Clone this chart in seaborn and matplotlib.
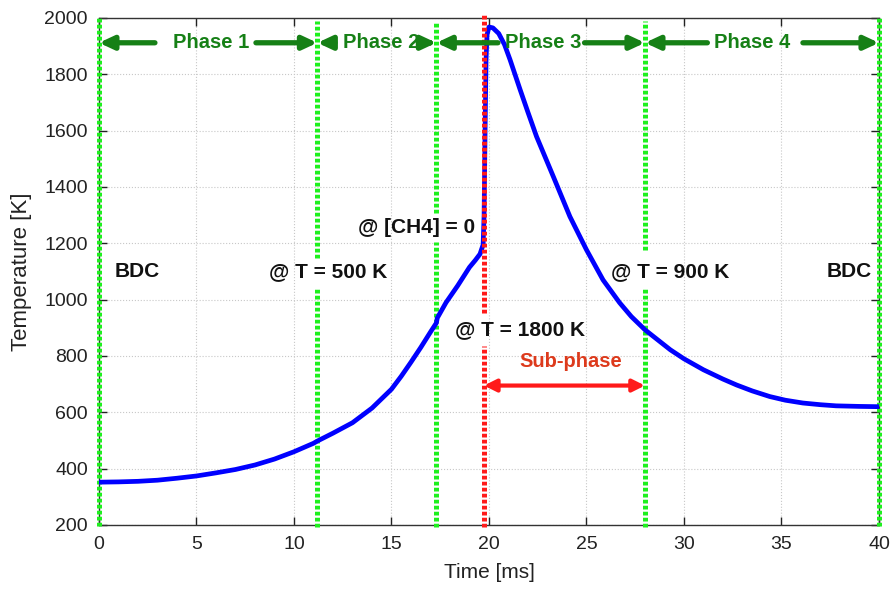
import numpy as np
import pandas as pd
import seaborn as sns
import matplotlib.pyplot as plt

# temperature trace
time_ms = [0, 1, 2, 3, 4, 5, 6, 7, 8, 9, 10, 11, 11.2, 12, 13, 14, 15, 15.5, 16,
           16.5, 17, 17.3, 17.35, 17.8, 18.4, 19.0, 19.3, 19.54, 19.7, 19.75, 19.8,
           19.85, 19.9, 20.0, 20.2, 20.5, 20.8, 21.08, 21.6, 22.0, 22.44, 23.3,
           24.15, 25.0, 25.85, 26.7, 27.3, 28.0, 29.3, 30.0, 31.0, 32.0, 32.7,
           33.5, 34.4, 35.2, 36.1, 37.0, 37.8, 39.0, 40.0]
temp_K = [352, 353, 355, 359, 366, 374, 385, 397, 413, 434, 460, 490, 498, 526,
          563, 615, 682, 728, 778, 830, 885, 917, 935, 990, 1050, 1115, 1140,
          1162, 1195, 1300, 1600, 1850, 1940, 1968, 1965, 1945, 1905, 1852, 1745,
          1665, 1579, 1437, 1295, 1177, 1070, 989, 940, 893, 822, 790, 751, 718,
          697, 676, 656, 643, 633, 627, 623, 621, 620]

# phase boundaries (green) and the sub-phase start (red), with label gaps
green_x = [0, 11.2, 17.3, 28.0, 40]
green_gap = [None, (1038, 1149), (1205, 1308), (1045, 1177), None]
red_x = 19.74
red_gap = (836, 953)

phase_names = ["Phase 1", "Phase 2", "Phase 3", "Phase 4"]
phase_text_x = [5.74, 14.46, 22.77, 33.5]
phase_left_tail = [2.87, 12.1, 20.46, 31.2]
phase_right_tail = [8.05, 16.67, 24.9, 36.1]
phase_y = 1912

labels = ["BDC", "@ T = 500 K", "@ [CH4] = 0", "@ T = 1800 K", "@ T = 900 K", "BDC"]
labels_x = [1.95, 11.74, 16.27, 21.6, 29.3, 38.5]
labels_y = [1099, 1099, 1255, 893, 1099, 1099]

sns.set_theme(style="ticks")
plt.rcParams['font.family'] = ['Liberation Sans', 'DejaVu Sans']

fig = plt.figure(figsize=(8.94, 5.90), dpi=100)
ax = fig.add_axes([0.1107, 0.1102, 0.8725, 0.8593])

df = pd.DataFrame({"t": time_ms, "T": temp_K})

ax.set_xlim(0, 40)
ax.set_ylim(200, 2000)
ax.set_xticks(np.arange(0, 41, 5))
ax.set_yticks(np.arange(200, 2001, 200))
ax.grid(True, color="#c8c8c8", linestyle=":", linewidth=0.8)

dots = (0, (0.75, 0.45))
green = "#1ef01e"
for x, gap in zip(green_x, green_gap):
    if gap is None:
        segs = [(195, 2000)]
    else:
        segs = [(192, gap[0]), (gap[1], 1990)]
    for lo, hi in segs:
        ax.plot([x, x], [lo, hi], color=green, lw=3.6, linestyle=dots, zorder=3,
                clip_on=False)

sns.lineplot(data=df, x="t", y="T", color="#0000ff", lw=3.4, ax=ax, zorder=4,
             sort=False, estimator=None)

for lo, hi in [(192, red_gap[0]), (red_gap[1], 2012)]:
    ax.plot([red_x, red_x], [lo, hi], color="#ff1a1a", lw=3.6, linestyle=dots,
            zorder=5, clip_on=False)

dark_green = "#168016"
arrow_style = "-|>,head_length=0.6,head_width=0.28"
for i, name in enumerate(phase_names):
    ax.text(phase_text_x[i], phase_y, name, color=dark_green, fontsize=14.5,
            fontweight="bold", ha="center", va="center", zorder=6)
    ax.annotate("", xy=(green_x[i], phase_y), xytext=(phase_left_tail[i], phase_y),
                arrowprops=dict(arrowstyle=arrow_style, lw=3.8, color=dark_green,
                                mutation_scale=14, shrinkA=0, shrinkB=0), zorder=6)
    ax.annotate("", xy=(green_x[i + 1], phase_y), xytext=(phase_right_tail[i], phase_y),
                arrowprops=dict(arrowstyle=arrow_style, lw=3.8, color=dark_green,
                                mutation_scale=14, shrinkA=0, shrinkB=0), zorder=6)

for s, x, y in zip(labels, labels_x, labels_y):
    ax.text(x, y, s, fontsize=15, fontweight="bold", color="#111111",
            ha="center", va="center", zorder=6)

ax.text(24.2, 780, "Sub-phase", color="#dd3a1c", fontsize=14.5, fontweight="bold",
        ha="center", va="center", zorder=6)
ax.annotate("", xy=(red_x, 695), xytext=(28.0, 695),
            arrowprops=dict(arrowstyle="<|-|>,head_length=0.6,head_width=0.3", lw=3,
                            color="#ff1a1a", mutation_scale=12, shrinkA=0, shrinkB=0),
            zorder=6)

ax.set_xlabel("Time [ms]", fontsize=15, color="#222222", labelpad=7)
ax.set_ylabel("Temperature [K]", fontsize=16, color="#222222", labelpad=9)
ax.tick_params(direction="in", top=True, right=True, length=6, width=1,
               labelsize=14, colors="#222222", pad=8)
for sp in ax.spines.values():
    sp.set_color("#333333")
    sp.set_linewidth(1)

fig.savefig("out.png", dpi=100)
